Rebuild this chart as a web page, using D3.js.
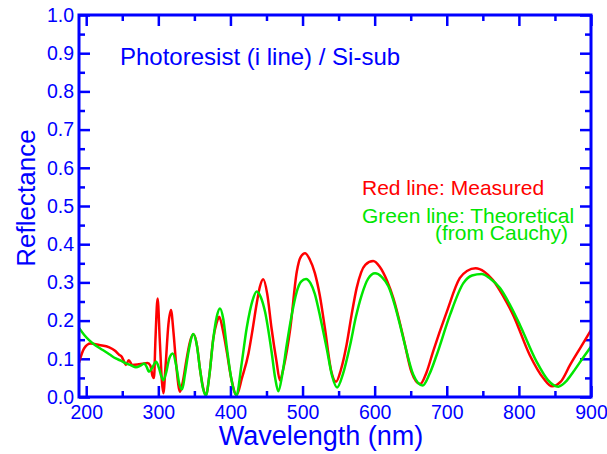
<!DOCTYPE html>
<html>
<head>
<meta charset="utf-8">
<script src="https://cdn.jsdelivr.net/npm/d3@7"></script>
<style>
  body { margin: 0; background: #fff; }
  text { font-family: "Liberation Sans", Arial, sans-serif; }
</style>
</head>
<body>
<svg id="svgId"></svg>
<script>
// measured (red) curve
const redWavelength = [190, 197, 206, 218, 232, 240, 246, 249, 252, 255, 259, 264, 271, 278, 285, 289, 292, 294, 296, 299, 302, 305, 307, 310, 314, 317.5, 321, 325, 330, 334, 339, 344, 349, 354, 358, 362, 366, 371, 376, 381, 384.5, 390, 395, 401, 408.5, 416, 425, 431, 436, 441, 445.5, 451, 457, 464, 468.5, 474, 483, 492, 497, 503.5, 510, 517, 524, 531, 540, 546.5, 553, 561, 568, 575, 587, 598, 607, 617, 626, 640, 651, 663, 672, 681, 700, 718, 728, 740, 752, 764, 778, 792, 815, 834, 846, 858, 871, 885, 900];
const redReflectance = [0.090, 0.127, 0.140, 0.136, 0.130, 0.121, 0.110, 0.106, 0.095, 0.084, 0.096, 0.084, 0.085, 0.087, 0.089, 0.082, 0.055, 0.050, 0.150, 0.258, 0.150, 0.040, 0.010, 0.080, 0.190, 0.228, 0.170, 0.080, 0.014, 0.040, 0.097, 0.145, 0.164, 0.130, 0.070, 0.025, 0.005, 0.060, 0.150, 0.195, 0.210, 0.170, 0.118, 0.050, 0.005, 0.050, 0.114, 0.180, 0.240, 0.290, 0.308, 0.270, 0.180, 0.092, 0.044, 0.080, 0.180, 0.328, 0.365, 0.376, 0.360, 0.325, 0.265, 0.180, 0.066, 0.040, 0.070, 0.136, 0.215, 0.285, 0.346, 0.356, 0.341, 0.305, 0.258, 0.154, 0.066, 0.034, 0.065, 0.119, 0.223, 0.311, 0.330, 0.337, 0.328, 0.306, 0.265, 0.215, 0.110, 0.049, 0.028, 0.040, 0.084, 0.128, 0.175];

// theoretical (green) curve
const greenWavelength = [190, 197, 204, 213, 223, 232, 241, 248, 255, 262, 269, 275, 280.5, 284, 287, 291, 297, 301, 304, 307, 311, 315, 320, 325, 329, 333, 337, 342, 348.5, 353, 358, 362, 366, 371, 376, 381, 385.5, 390, 395, 401, 408.5, 415, 422.5, 427, 431, 436.4, 442, 448, 457, 462, 466.4, 472, 478, 485, 492, 498, 504.8, 511, 517, 525, 533.5, 541, 548, 556, 566, 574, 582, 591, 600.5, 610, 619, 628, 635, 642, 653.6, 666.5, 676, 686, 704.5, 723, 735, 748.4, 760, 773.8, 788, 801.6, 824.7, 840, 854.7, 865, 875.5, 888, 900];
const greenReflectance = [0.181, 0.163, 0.149, 0.135, 0.123, 0.112, 0.101, 0.095, 0.088, 0.083, 0.078, 0.082, 0.088, 0.078, 0.066, 0.075, 0.092, 0.075, 0.055, 0.044, 0.065, 0.100, 0.114, 0.080, 0.035, 0.020, 0.060, 0.120, 0.165, 0.140, 0.070, 0.022, 0.004, 0.060, 0.149, 0.210, 0.232, 0.205, 0.130, 0.050, 0.005, 0.080, 0.180, 0.225, 0.255, 0.276, 0.262, 0.223, 0.119, 0.050, 0.015, 0.060, 0.136, 0.215, 0.276, 0.302, 0.309, 0.298, 0.270, 0.205, 0.127, 0.055, 0.025, 0.060, 0.136, 0.210, 0.267, 0.310, 0.324, 0.314, 0.290, 0.240, 0.190, 0.136, 0.058, 0.030, 0.060, 0.110, 0.215, 0.298, 0.318, 0.322, 0.310, 0.285, 0.240, 0.188, 0.092, 0.045, 0.027, 0.040, 0.066, 0.100, 0.132];

const xMajorTicks = [200, 300, 400, 500, 600, 700, 800, 900];
const xMinorTicks = [250, 350, 450, 550, 650, 750, 850];
const yMajorTicks = [0, 0.1, 0.2, 0.3, 0.4, 0.5, 0.6, 0.7, 0.8, 0.9, 1.0];
const yMinorTicks = [0.05, 0.15, 0.25, 0.35, 0.45, 0.55, 0.65, 0.75, 0.85, 0.95];

const width = 607;
const height = 454;
const margin = { top: 15, right: 16, bottom: 57, left: 79 };
const blue = '#0000ff';
const redColor = '#ff0000';
const greenColor = '#00e600';

function drawChart() {
    const svg = d3.select('#svgId').attr('width', width).attr('height', height);
    svg.selectAll('*').remove();

    const xScale = d3.scaleLinear().domain([190, 900]).range([margin.left, width - margin.right]);
    const yScale = d3.scaleLinear().domain([0, 1]).range([height - margin.bottom, margin.top]);

    // inward ticks on all four sides
    const bottom = svg.append('g').attr('transform', `translate(0, ${height - margin.bottom})`);
    bottom.call(d3.axisBottom(xScale).tickValues(xMajorTicks).tickSize(-11).tickPadding(8).tickFormat(d3.format('d')));
    bottom.append('g').call(d3.axisBottom(xScale).tickValues(xMinorTicks).tickSize(-6).tickFormat(''));

    const top = svg.append('g').attr('transform', `translate(0, ${margin.top})`);
    top.call(d3.axisTop(xScale).tickValues(xMajorTicks).tickSize(-11).tickFormat(''));
    top.append('g').call(d3.axisTop(xScale).tickValues(xMinorTicks).tickSize(-6).tickFormat(''));

    const left = svg.append('g').attr('transform', `translate(${margin.left}, 0)`);
    left.call(d3.axisLeft(yScale).tickValues(yMajorTicks).tickSize(-11).tickPadding(5).tickFormat(d3.format('.1f')));
    left.append('g').call(d3.axisLeft(yScale).tickValues(yMinorTicks).tickSize(-6).tickFormat(''));

    const right = svg.append('g').attr('transform', `translate(${width - margin.right}, 0)`);
    right.call(d3.axisRight(yScale).tickValues(yMajorTicks).tickSize(-11).tickFormat(''));
    right.append('g').call(d3.axisRight(yScale).tickValues(yMinorTicks).tickSize(-6).tickFormat(''));

    svg.selectAll('.domain').remove();
    svg.selectAll('.tick line').attr('stroke', blue).attr('stroke-width', 2.5);
    svg.selectAll('.tick text')
        .attr('fill', blue)
        .style('font-size', '19.5px')
        .style('font-family', '"Liberation Sans", Arial, sans-serif');

    // curves
    const line = (xs, ys) => d3.line()
        .x((d, i) => xScale(xs[i]))
        .y((d, i) => yScale(ys[i]))
        .curve(d3.curveMonotoneX)(xs);

    svg.append('path')
        .attr('d', line(redWavelength, redReflectance))
        .attr('fill', 'none')
        .attr('stroke', redColor)
        .attr('stroke-width', 2.5);

    svg.append('path')
        .attr('d', line(greenWavelength, greenReflectance))
        .attr('fill', 'none')
        .attr('stroke', greenColor)
        .attr('stroke-width', 2.5);

    // frame
    svg.append('rect')
        .attr('x', margin.left)
        .attr('y', margin.top)
        .attr('width', width - margin.left - margin.right)
        .attr('height', height - margin.top - margin.bottom)
        .attr('fill', 'none')
        .attr('stroke', blue)
        .attr('stroke-width', 3);

    // axis titles
    svg.append('text')
        .attr('x', 321)
        .attr('y', 445)
        .attr('text-anchor', 'middle')
        .attr('fill', blue)
        .style('font-size', '27px')
        .text('Wavelength (nm)');

    svg.append('text')
        .attr('transform', 'translate(35, 198) rotate(-90)')
        .attr('text-anchor', 'middle')
        .attr('fill', blue)
        .style('font-size', '26px')
        .text('Reflectance');

    // annotations
    svg.append('text')
        .attr('x', 120)
        .attr('y', 65)
        .attr('fill', blue)
        .style('font-size', '24px')
        .text('Photoresist (i line) / Si-sub');

    svg.append('text')
        .attr('x', 362)
        .attr('y', 195)
        .attr('fill', redColor)
        .style('font-size', '21px')
        .text('Red line: Measured');

    svg.append('text')
        .attr('x', 362)
        .attr('y', 223)
        .attr('fill', greenColor)
        .style('font-size', '21px')
        .text('Green line: Theoretical');

    svg.append('text')
        .attr('x', 568)
        .attr('y', 240)
        .attr('text-anchor', 'end')
        .attr('fill', greenColor)
        .style('font-size', '21px')
        .text('(from Cauchy)');
}

drawChart();
</script>
</body>
</html>
